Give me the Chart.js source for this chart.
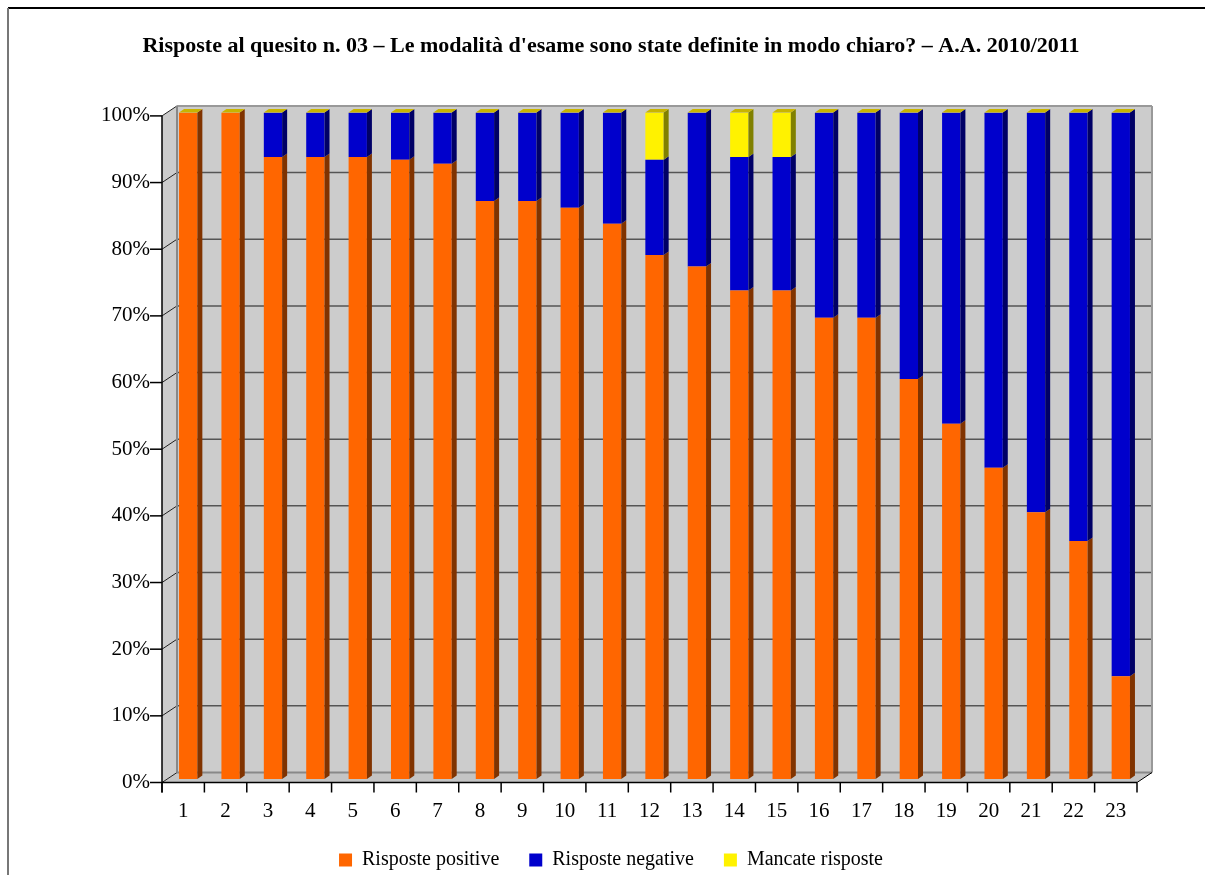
<!DOCTYPE html>
<html>
<head>
<meta charset="utf-8">
<script src="https://cdn.jsdelivr.net/npm/chart.js@4.4.0/dist/chart.umd.min.js"></script>
<style>
  body { margin: 0; background: #fff; }
  #wrap { width: 1205px; height: 875px; }
</style>
</head>
<body>
<div id="wrap"><canvas id="myChart" width="1205" height="875"></canvas></div>
<script>
const titleText = "Risposte al quesito n. 03 – Le modalità d'esame sono state definite in modo chiaro? – A.A. 2010/2011";
const categories = ["1", "2", "3", "4", "5", "6", "7", "8", "9", "10", "11", "12",
  "13", "14", "15", "16", "17", "18", "19", "20", "21", "22", "23"];
const positive = [100, 100, 93.3, 93.3, 93.3, 92.9, 92.3, 86.7, 86.7, 85.7, 83.3, 78.6,
  76.9, 73.3, 73.3, 69.2, 69.2, 60, 53.3, 46.7, 40, 35.7, 15.4];
const negative = [0, 0, 6.7, 6.7, 6.7, 7.1, 7.7, 13.3, 13.3, 14.3, 16.7, 14.3,
  23.1, 20, 20, 30.8, 30.8, 40, 46.7, 53.3, 60, 64.3, 84.6];
const missing = [0, 0, 0, 0, 0, 0, 0, 0, 0, 0, 0, 7.1,
  0, 6.7, 6.7, 0, 0, 0, 0, 0, 0, 0, 0];
const yTicks = [0, 10, 20, 30, 40, 50, 60, 70, 80, 90, 100];

// side face colours, one per series
const sideColors = ["#803300", "#000066", "#808000"];
const topColor = "#c8b400";

// bar depth and wall depth in px
const barDx = 5, barDy = -3.5;
const wallDx = 15, wallDy = -10;

const serif = "'Liberation Serif', 'Times New Roman', serif";
Chart.defaults.font.family = serif;
Chart.defaults.color = "#000";

function poly(ctx, pts, fill) {
  ctx.beginPath();
  ctx.moveTo(pts[0][0], pts[0][1]);
  for (let i = 1; i < pts.length; i++) ctx.lineTo(pts[i][0], pts[i][1]);
  ctx.closePath();
  ctx.fillStyle = fill;
  ctx.fill();
}

function line(ctx, x1, y1, x2, y2, color, w) {
  ctx.beginPath();
  ctx.moveTo(x1, y1);
  ctx.lineTo(x2, y2);
  ctx.strokeStyle = color;
  ctx.lineWidth = w || 1;
  ctx.stroke();
}

const frame3d = {
  id: "frame3d",
  beforeDraw(chart) {
    const ctx = chart.ctx;
    ctx.save();
    line(ctx, 8, 8, 1205, 8, "#000", 2);
    line(ctx, 8, 8, 8, 875, "#777", 2);
    ctx.restore();
  },
  beforeDatasetsDraw(chart) {
    const { ctx, chartArea: a, scales: { y } } = chart;
    const fl = a.left - barDx, fr = a.right - barDx;
    const fy = (v) => y.getPixelForValue(v) - barDy;
    const bl = fl + wallDx, br = fr + wallDx;
    const by = (v) => fy(v) + wallDy;
    ctx.save();
    // back wall
    ctx.fillStyle = "#cccccc";
    ctx.fillRect(bl, by(100), br - bl, by(0) - by(100));
    // left wall
    poly(ctx, [[fl, fy(100)], [bl, by(100)], [bl, by(0)], [fl, fy(0)]], "#cccccc");
    // floor
    poly(ctx, [[fl, fy(0)], [bl, by(0)], [br, by(0)], [fr, fy(0)]], "#c4c4c4");
    // grid lines
    yTicks.forEach((v) => {
      if (v > 0 && v < 100) {
        line(ctx, bl, by(v), br, by(v), "#555", 1.5);
      }
      line(ctx, fl, fy(v), bl, by(v), "#222", 1);
    });
    // wall edges
    line(ctx, bl, by(100), br, by(100), "#999", 2);
    line(ctx, br, by(100), br, by(0), "#999", 2);
    line(ctx, bl, by(100), bl, by(0), "#888", 2);
    line(ctx, bl, by(0), br, by(0), "#888", 2);
    ctx.restore();
  },
  afterDatasetsDraw(chart) {
    const { ctx, chartArea: a, scales: { y } } = chart;
    ctx.save();
    chart.data.datasets.forEach((ds, di) => {
      const meta = chart.getDatasetMeta(di);
      meta.data.forEach((bar) => {
        const right = bar.x + bar.width / 2;
        const top = Math.min(bar.y, bar.base);
        const bottom = Math.max(bar.y, bar.base);
        if (bottom - top > 0.5) {
          poly(ctx, [[right, top], [right + barDx, top + barDy],
            [right + barDx, bottom + barDy], [right, bottom]], sideColors[di]);
        }
      });
    });
    // top cap of each stack
    const lastMeta = chart.getDatasetMeta(chart.data.datasets.length - 1);
    lastMeta.data.forEach((bar) => {
      const left = bar.x - bar.width / 2, right = bar.x + bar.width / 2;
      const top = y.getPixelForValue(100);
      poly(ctx, [[left, top], [left + barDx, top + barDy],
        [right + barDx, top + barDy], [right, top]], topColor);
    });
    // front axes
    const fl = a.left - barDx, fr = a.right - barDx;
    const fy = (v) => y.getPixelForValue(v) - barDy;
    line(ctx, fl, fy(100), fl, fy(0) + 10, "#000", 1.5);
    line(ctx, fl, fy(0), fr, fy(0), "#000", 1.5);
    line(ctx, fr, fy(0), fr + wallDx, fy(0) + wallDy, "#000", 1);
    yTicks.forEach((v) => line(ctx, fl - 12, fy(v), fl, fy(v), "#000", 1.5));
    const step = (fr - fl) / categories.length;
    for (let i = 0; i <= categories.length; i++) {
      line(ctx, fl + i * step, fy(0), fl + i * step, fy(0) + 10, "#000", 1.5);
    }
    ctx.restore();
  }
};

const data = {
  labels: categories,
  datasets: [
    { label: "Risposte positive", data: positive, backgroundColor: "#ff6600" },
    { label: "Risposte negative", data: negative, backgroundColor: "#0000cc" },
    { label: "Mancate risposte", data: missing, backgroundColor: "#fff200" }
  ]
};

const config = {
  type: "bar",
  data: data,
  plugins: [frame3d],
  options: {
    responsive: false,
    animation: false,
    layout: { padding: { top: 8, left: 40, right: 23, bottom: -5 } },
    datasets: {
      bar: { barPercentage: 0.432, categoryPercentage: 1, borderWidth: 0 }
    },
    scales: {
      x: {
        stacked: true,
        grid: { display: false, drawTicks: false },
        border: { display: false },
        ticks: { font: { family: serif, size: 21 }, padding: 20, labelOffset: -barDx, maxRotation: 0 },
        afterFit: (s) => { s.height = 41; }
      },
      y: {
        stacked: true,
        min: 0,
        max: 100,
        grid: { display: false, drawTicks: false },
        border: { display: false },
        ticks: {
          stepSize: 10,
          font: { family: serif, size: 21 },
          padding: 17,
          labelOffset: -barDy,
          callback: (v) => v + "%"
        },
        afterFit: (s) => { s.width = 127; }
      },
      yRight: {
        position: "right",
        display: true,
        grid: { display: false, drawTicks: false },
        border: { display: false },
        ticks: { display: false },
        afterFit: (s) => { s.width = 40; }
      }
    },
    plugins: {
      title: {
        display: true,
        text: titleText,
        font: { family: serif, size: 22, weight: "bold" },
        padding: { top: 25, bottom: 53 }
      },
      legend: {
        position: "bottom",
        labels: { boxWidth: 13, boxHeight: 13, padding: 30, font: { family: serif, size: 20 } }
      },
      tooltip: { enabled: false }
    }
  }
};

let myChart = new Chart(document.getElementById("myChart"), config);
</script>
</body>
</html>
